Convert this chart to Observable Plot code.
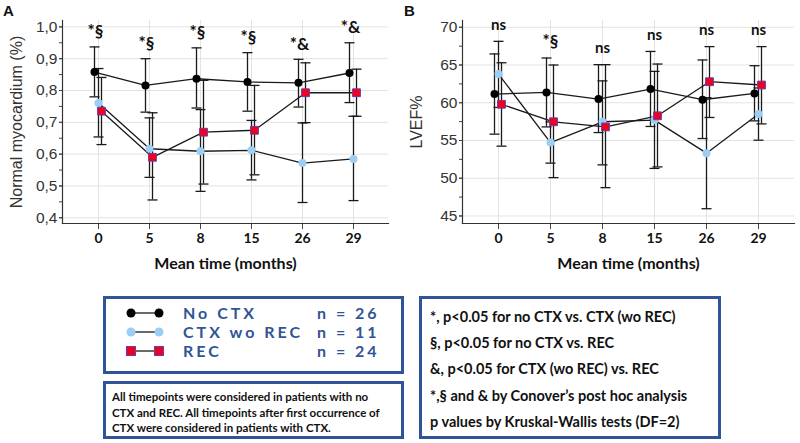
<!DOCTYPE html>
<html><head><meta charset="utf-8">
<script src="https://cdn.jsdelivr.net/npm/d3@7"></script>
<script src="https://cdn.jsdelivr.net/npm/@observablehq/plot@0.6"></script>
<style>
body{margin:0;background:#fff;}
#root{position:relative;width:800px;height:443px;overflow:hidden;background:#fff;font-family:"Liberation Sans",Arial,sans-serif;}
.panel{position:absolute;top:0;}
.plabel{position:absolute;font:bold 15px "Liberation Sans",Arial,sans-serif;color:#111;}
.box{position:absolute;border:3px solid #2f5597;box-sizing:border-box;background:#fff;}
.panel g[aria-label^="x-axis"] text{font-family:Lato,"Open Sans",sans-serif;font-weight:700;font-size:14px;fill:#111;}
.panel g[aria-label="x-axis label"] text{font-size:16px;}
.panel g[aria-label^="y-axis"] text{font-family:"Liberation Sans",Arial,sans-serif;font-size:15.5px;fill:#333;}
.panel g[aria-label="y-axis label"] text{font-size:16px;}
.leg{font-family:Lato,sans-serif;font-weight:700;font-size:16px;letter-spacing:3px;color:#2f5597;position:absolute;white-space:pre;line-height:1;}
.note{position:absolute;font-family:Lato,sans-serif;font-weight:700;font-size:11.5px;color:#111;line-height:15.5px;white-space:pre;}
.stat{position:absolute;font-family:Lato,sans-serif;font-weight:700;font-size:14.5px;color:#111;line-height:26.2px;white-space:pre;}
</style>
</head><body>
<div id="root">
  <div class="panel" id="A" style="left:0"></div>
  <div class="panel" id="B" style="left:400px"></div>
  <div class="plabel" style="left:3px;top:2px">A</div>
  <div class="plabel" style="left:404px;top:2px">B</div>
  <div class="box" id="legbox" style="left:103px;top:296px;width:301px;height:78px"></div>
  <div class="box" style="left:103px;top:381px;width:301px;height:58px">
    <div class="note" id="note" style="left:6px;top:5px"></div>
  </div>
  <div class="box" style="left:419px;top:296px;width:302px;height:143px">
    <div class="stat" id="stat" style="left:8px;top:5px"></div>
  </div>
</div>
<script>
// ---- data ----
const months = ["0", "5", "8", "15", "26", "29"];

// Panel A: Normal myocardium
const noCtxA    = [0.858, 0.816, 0.837, 0.827, 0.824, 0.855];
const noCtxA_lo = [0.780, 0.732, 0.745, 0.735, 0.748, 0.762];
const noCtxA_hi = [0.937, 0.900, 0.934, 0.919, 0.898, 0.950];
const ctxA      = [0.761, 0.617, 0.609, 0.612, 0.572, 0.585];
const ctxA_lo   = [0.654, 0.527, 0.483, 0.519, 0.448, 0.454];
const ctxA_hi   = [0.869, 0.714, 0.740, 0.706, 0.698, 0.719];
const recA      = [0.735, 0.590, 0.669, 0.675, 0.793, 0.793];
const recA_lo   = [0.630, 0.456, 0.506, 0.535, 0.699, 0.719];
const recA_hi   = [0.841, 0.730, 0.832, 0.816, 0.887, 0.867];
const sigA = ["*§", "*§", "*§", "*§", "*&", "*&"];
const yTicksA = [0.4, 0.5, 0.6, 0.7, 0.8, 0.9, 1.0];

// Panel B: LVEF%
const noCtxB    = [61.15, 61.37, 60.49, 61.82, 60.40, 61.24];
const noCtxB_lo = [55.84, 56.80, 56.05, 56.86, 55.26, 57.60];
const noCtxB_hi = [66.47, 65.93, 65.05, 66.80, 65.67, 64.91];
const ctxB      = [63.80, 54.73, 57.48, 57.70, 53.32, 58.50];
const ctxB_lo   = [59.38, 52.00, 51.77, 51.30, 45.96, 55.04];
const ctxB_hi   = [68.14, 57.46, 62.90, 64.16, 60.68, 61.96];
const recB      = [59.80, 57.48, 56.80, 58.27, 62.79, 62.35];
const recB_lo   = [54.25, 50.08, 48.75, 51.50, 58.05, 57.20];
const recB_hi   = [65.30, 65.00, 65.05, 65.13, 67.44, 67.44];
const sigB = ["ns", "*§", "ns", "ns", "ns", "ns"];
const yTicksB = [45, 50, 55, 60, 65, 70];

const groups = ["No CTX", "CTX wo REC", "REC"];
const groupN = ["n = 26", "n = 11", "n = 24"];
const noteLines = [
  "All timepoints were considered in patients with no",
  "CTX and REC. All timepoints after first occurrence of",
  "CTX were considered in patients with CTX."
];
const statLines = [
  "*, p<0.05 for no CTX vs. CTX (wo REC)",
  "§, p<0.05 for no CTX vs. REC",
  "&, p<0.05 for CTX (wo REC) vs. REC",
  "*,§ and & by Conover’s post hoc analysis",
  "p values by Kruskal-Wallis tests (DF=2)"
];

// ---- styles ----
const INK = "#1a1a1a";
const BLUE = "#9ccdf3";
const RED = "#f0001a";
const RED_STROKE = "#6a3cae";
const GRID = "#e3e3e3";
const cap = {draw(ctx) { ctx.moveTo(-5, 0); ctx.lineTo(5, 0); }};

function rows(v, lo, hi) {
  return months.map((m, i) => ({m, v: v[i], lo: lo[i], hi: hi[i]}));
}

function panel(el, cfg) {
  const series = [
    {data: rows(...cfg.black), dx: -4, kind: "black"},
    {data: rows(...cfg.blue), dx: 0, kind: "blue"},
    {data: rows(...cfg.red), dx: 3, kind: "red"}
  ];
  const marks = [
    Plot.gridX({stroke: GRID, strokeOpacity: 1}),
    Plot.gridY(cfg.yTicks, {stroke: GRID, strokeOpacity: 1}),
    Plot.axisY(cfg.minor, {tickSize: 3, tickFormat: () => "", label: null, stroke: "#444"}),
    Plot.axisY(cfg.yTicks, {tickSize: 3, tickPadding: 2, tickFormat: cfg.yFmt, stroke: "#444",
      label: cfg.yLabel, labelArrow: false, labelAnchor: "center", labelOffset: 52}),
    Plot.axisX({tickSize: 6, tickPadding: 4, stroke: "#444",
      label: "Mean time (months)", labelArrow: false, labelAnchor: "center", labelOffset: 45}),
    Plot.frame({anchor: "left", stroke: "#333", strokeWidth: 1.2}),
    Plot.frame({anchor: "bottom", stroke: "#333", strokeWidth: 1.2})
  ];
  for (const s of series) {
    marks.push(Plot.ruleX(s.data, {x: "m", y1: "lo", y2: "hi", dx: s.dx, stroke: INK, strokeWidth: 1.3}));
    marks.push(Plot.dot(s.data, {x: "m", y: "lo", dx: s.dx, symbol: cap, fill: "none", stroke: INK, strokeWidth: 1.3}));
    marks.push(Plot.dot(s.data, {x: "m", y: "hi", dx: s.dx, symbol: cap, fill: "none", stroke: INK, strokeWidth: 1.3}));
  }
  for (const s of series) {
    marks.push(Plot.lineY(s.data, {x: "m", y: "v", dx: s.dx, stroke: INK, strokeWidth: 1.3}));
  }
  for (const s of series) {
    if (s.kind === "black") marks.push(Plot.dot(s.data, {x: "m", y: "v", dx: s.dx, r: 4, fill: "#000"}));
    if (s.kind === "blue") marks.push(Plot.dot(s.data, {x: "m", y: "v", dx: s.dx, r: 4, fill: BLUE}));
    if (s.kind === "red") marks.push(Plot.dot(s.data, {x: "m", y: "v", dx: s.dx, r: 4.4, symbol: "square", fill: RED, stroke: RED_STROKE, strokeWidth: 1}));
  }
  const sigRows = months.map((m, i) => ({m, label: cfg.sig[i],
    top: d3.max(series, s => s.data[i].hi)}));
  marks.push(Plot.text(sigRows, {x: "m", y: "top", text: "label", dx: cfg.sigDx, dy: cfg.sigDy,
    fontSize: (d) => d.label === "ns" ? 15 : 17, fontWeight: "bold", fontFamily: "Lato, sans-serif", fill: "#111"}));
  const chart = Plot.plot({
    width: 400, height: 275,
    marginTop: 20, marginBottom: 52, marginLeft: 62, marginRight: cfg.marginRight,
    style: {background: "transparent", color: "#333", fontFamily: "Liberation Sans, Arial, sans-serif", fontSize: "15px"},
    x: {type: "point", domain: months, padding: cfg.padding},
    y: {domain: cfg.yDomain},
    marks
  });
  document.getElementById(el).appendChild(chart);
}

panel("A", {
  black: [noCtxA, noCtxA_lo, noCtxA_hi],
  blue: [ctxA, ctxA_lo, ctxA_hi],
  red: [recA, recA_lo, recA_hi],
  sig: sigA, sigDx: -3, sigDy: -15,
  yDomain: [0.382, 1.02], yTicks: yTicksA, yFmt: d => d.toFixed(1).replace(".", ","),
  yLabel: "Normal myocardium (%)", marginRight: 12, padding: 0.64,
  minor: d3.range(8, 21).map(k => k * 0.05)
});
panel("B", {
  black: [noCtxB, noCtxB_lo, noCtxB_hi],
  blue: [ctxB, ctxB_lo, ctxB_hi],
  red: [recB, recB_lo, recB_hi],
  sig: sigB, sigDx: 0, sigDy: -16,
  yDomain: [44, 70.9], yTicks: yTicksB, yFmt: d => String(d),
  yLabel: "LVEF%", marginRight: 6, padding: 0.66,
  minor: d3.range(45, 71, 2.5)
});

// ---- legend box ----
(function () {
  const box = document.getElementById("legbox");
  const ys = [17, 36, 55];
  const svg = d3.select(box).append("svg").attr("width", 295).attr("height", 72)
    .style("position", "absolute").style("left", "0").style("top", "0");
  groups.forEach((g, i) => {
    const y = ys[i] - 3;
    svg.append("line").attr("x1", 25).attr("x2", 53).attr("y1", y).attr("y2", y).attr("stroke", INK).attr("stroke-width", 1.3);
    [25, 53].forEach(x => {
      if (i === 0) svg.append("circle").attr("cx", x).attr("cy", y).attr("r", 4.5).attr("fill", "#000");
      if (i === 1) svg.append("circle").attr("cx", x).attr("cy", y).attr("r", 4.5).attr("fill", BLUE);
      if (i === 2) svg.append("rect").attr("x", x - 4.5).attr("y", y - 4.5).attr("width", 9).attr("height", 9)
        .attr("fill", RED).attr("stroke", RED_STROKE).attr("stroke-width", 1);
    });
    const t = document.createElement("div");
    t.className = "leg"; t.textContent = g;
    t.style.left = "77px"; t.style.top = (ys[i] - 11) + "px";
    box.appendChild(t);
    const n = document.createElement("div");
    n.className = "leg"; n.textContent = groupN[i];
    n.style.left = "211px"; n.style.top = (ys[i] - 11) + "px";
    box.appendChild(n);
  });
  document.getElementById("note").textContent = noteLines.join("\n");
  document.getElementById("stat").textContent = statLines.join("\n");
})();
</script>
</body></html>
